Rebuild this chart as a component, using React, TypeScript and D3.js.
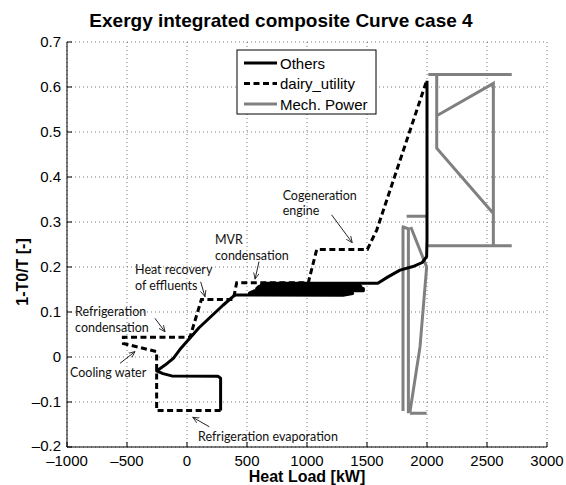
import React from "react";
import * as d3 from "d3";

const W = 566;
const H = 485;
const M = { left: 67, right: 19, top: 42, bottom: 38 };

const xTicks = [-1000, -500, 0, 500, 1000, 1500, 2000, 2500, 3000];
const yTicks = [-0.2, -0.1, 0, 0.1, 0.2, 0.3, 0.4, 0.5, 0.6, 0.7];

// Others (black solid)
const othersX = [280, 280, 258, -127, -200, -253, -183, -114, -58, 25, 100, 200, 300, 400, 1300, 1380, 520, 560, 1470, 1470, 580, 600, 1450, 1400, 620, 650, 1590, 1675, 1775, 1883, 1960, 1997, 2000, 2000];
const othersY = [-0.119, -0.047, -0.043, -0.042, -0.037, -0.031, -0.018, -0.003, 0.017, 0.042, 0.065, 0.09, 0.115, 0.138, 0.137, 0.141, 0.142, 0.147, 0.147, 0.152, 0.152, 0.157, 0.157, 0.16, 0.161, 0.164, 0.164, 0.178, 0.193, 0.201, 0.21, 0.223, 0.26, 0.614];

// dairy_utility (black dashed)
const dairyX = [280, -253, -253, -530, -530, 25, 120, 386, 414, 1011, 1020, 1081, 1503, 1581, 1997];
const dairyY = [-0.119, -0.119, 0.012, 0.03, 0.044, 0.044, 0.128, 0.128, 0.165, 0.165, 0.175, 0.239, 0.239, 0.282, 0.614];

// Mech. Power (grey) - NaN separates segments
const mechX = [2011, 2706, NaN, 2081, 2081, 2553, NaN, 2553, 2553, 2081, NaN, 1997, 2706, NaN, 1830, 2000, NaN, 1800, 1800, NaN, 1790, 1845, 1845, NaN, 1865, 1997, 1942, 1858, NaN, 1858, 1997];
const mechY = [0.628, 0.628, NaN, 0.628, 0.464, 0.319, NaN, 0.247, 0.608, 0.536, NaN, 0.247, 0.247, NaN, 0.313, 0.313, NaN, 0.289, -0.12, NaN, 0.29, 0.285, -0.125, NaN, 0.289, 0.2, 0.023, -0.122, NaN, -0.125, -0.125];

const legendLabels = ["Others", "dairy_utility", "Mech. Power"];

// annotations: text lines, text anchor (data coords) and arrow from/to in data coords
const annoText = [["Cogeneration", "engine"], ["MVR", "condensation"], ["Heat recovery", "of effluents"], ["Refrigeration", "condensation"], ["Cooling water"], ["Refrigeration evaporation"]];
const annoTextX = [797, 233, -433, -933, -975, 92];
const annoTextY = [0.349, 0.251, 0.184, 0.091, -0.044, -0.187];
const annoFromX = [1205, 600, 114, -267, -558, 186];
const annoFromY = [0.316, 0.212, 0.167, 0.086, -0.014, -0.155];
const annoToX = [1377, 567, 150, -183, -433, 48];
const annoToY = [0.254, 0.173, 0.134, 0.056, 0.012, -0.134];

export default function App() {
  const x = d3.scaleLinear().domain([-1000, 3000]).range([M.left, W - M.right]);
  const y = d3.scaleLinear().domain([-0.2, 0.7]).range([H - M.bottom, M.top]);
  const line = d3
    .line<[number, number]>()
    .defined((d) => !isNaN(d[0]))
    .x((d) => x(d[0]))
    .y((d) => y(d[1]));

  const others = othersX.map((v, i) => [v, othersY[i]] as [number, number]);
  const dairy = dairyX.map((v, i) => [v, dairyY[i]] as [number, number]);
  const mech = mechX.map((v, i) => [v, mechY[i]] as [number, number]);

  const x0 = M.left;
  const x1 = W - M.right;
  const y0 = H - M.bottom;
  const y1 = M.top;
  const annoFont = "Lato, 'Open Sans', sans-serif";
  const fmtY = (t: number) => (Math.abs(t) < 1e-9 ? "0" : (t < 0 ? "\u2013" : "") + Math.abs(t).toFixed(1));

  return (
    <svg width={W} height={H} style={{ position: "absolute", left: 0, top: 0, background: "#fff" }} fontFamily="Arial, 'Liberation Sans', Helvetica, sans-serif">
      <defs>
        <marker id="arr" viewBox="0 0 10 10" refX="9" refY="5" markerWidth="7" markerHeight="7" orient="auto-start-reverse" markerUnits="userSpaceOnUse">
          <path d="M0,1 L9,5 L0,9" fill="none" stroke="#222" strokeWidth={1.2} />
        </marker>
      </defs>
      {/* grid */}
      {xTicks.map((t) => (
        <line key={"gx" + t} x1={x(t)} x2={x(t)} y1={y0} y2={y1} stroke="#777" strokeWidth={1} strokeDasharray="1,3" />
      ))}
      {yTicks.map((t) => (
        <line key={"gy" + t} x1={x0} x2={x1} y1={y(t)} y2={y(t)} stroke="#777" strokeWidth={1} strokeDasharray="1,3" />
      ))}
      {/* series */}
      <path d={line(mech) || ""} fill="none" stroke="#808080" strokeWidth={3} />
      <path d={line(others) || ""} fill="none" stroke="#000" strokeWidth={3} strokeLinejoin="round" />
      <path d={line(dairy) || ""} fill="none" stroke="#000" strokeWidth={3} strokeDasharray="6,3.5" />
      {/* axes */}
      <line x1={x0} x2={x0} y1={y0} y2={y1} stroke="#000" strokeWidth={1} />
      <line x1={x0} x2={x1} y1={y0} y2={y0} stroke="#000" strokeWidth={1} />
      {xTicks.map((t) => (
        <g key={"tx" + t}>
          <line x1={x(t)} x2={x(t)} y1={y0} y2={y0 - 5} stroke="#000" />
          <text x={x(t)} y={y0 + 18.5} fontSize={15} textAnchor="middle">
            {t < 0 ? "\u2013" + Math.abs(t) : String(t)}
          </text>
        </g>
      ))}
      {yTicks.map((t) => (
        <g key={"ty" + t}>
          <line x1={x0} x2={x0 + 5} y1={y(t)} y2={y(t)} stroke="#000" />
          <text x={x0 - 6} y={y(t) + (t < -0.15 ? 3.5 : 5)} fontSize={15} textAnchor="end">
            {fmtY(t)}
          </text>
        </g>
      ))}
      {/* title and labels */}
      <text x={281} y={27} fontSize={19} fontWeight="bold" textAnchor="middle">
        Exergy integrated composite Curve case 4
      </text>
      <text x={307} y={481.5} fontSize={16} fontWeight="bold" textAnchor="middle">
        Heat Load [kW]
      </text>
      <text transform={`translate(28,272) rotate(-90)`} fontSize={16} fontWeight="bold" textAnchor="middle">
        1-T0/T [-]
      </text>
      {/* annotations */}
      {annoText.map((lines, i) => (
        <g key={"an" + i}>
          {lines.map((s, j) => (
            <text key={j} x={x(annoTextX[i])} y={y(annoTextY[i]) + j * 15.5} fontSize={12.5} fontFamily={annoFont} fill="#111">
              {s}
            </text>
          ))}
          <line x1={x(annoFromX[i])} y1={y(annoFromY[i])} x2={x(annoToX[i])} y2={y(annoToY[i])} stroke="#222" strokeWidth={1} markerEnd="url(#arr)" />
        </g>
      ))}
      {/* legend */}
      <rect x={237} y={50} width={139} height={64} fill="#fff" stroke="#000" strokeWidth={1} />
      {legendLabels.map((lab, i) => {
        const ly = 63 + i * 20.5;
        return (
          <g key={lab}>
            <line x1={244} x2={277} y1={ly} y2={ly} stroke={i === 2 ? "#808080" : "#000"} strokeWidth={3} strokeDasharray={i === 1 ? "6,3.5" : undefined} />
            <text x={280} y={ly + 5.5} fontSize={15}>
              {lab}
            </text>
          </g>
        );
      })}
    </svg>
  );
}
